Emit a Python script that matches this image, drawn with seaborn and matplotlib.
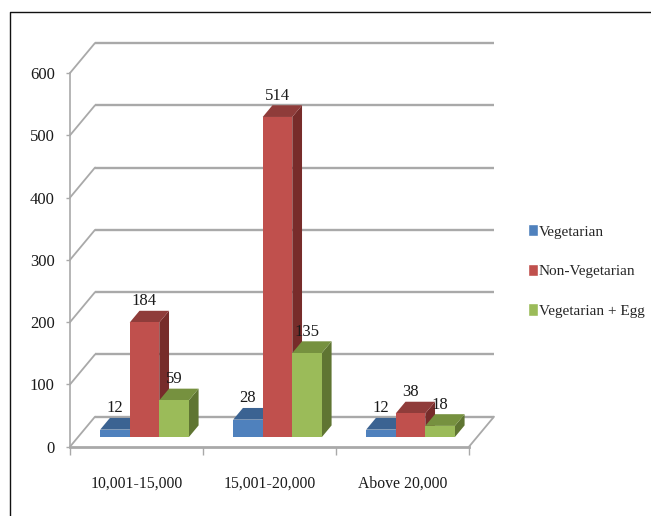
import matplotlib
matplotlib.use("Agg")
import matplotlib.pyplot as plt
from matplotlib.lines import Line2D
from matplotlib.patches import Polygon
from matplotlib.transforms import Affine2D
import numpy as np
import pandas as pd
import seaborn as sns

# Monthly income bands and respondent counts per diet type
income_bands = ["10,001-15,000", "15,001-20,000", "Above 20,000"]
vegetarian = [12, 28, 12]
non_vegetarian = [184, 514, 38]
vegetarian_egg = [59, 135, 18]
diet_names = ["Vegetarian", "Non-Vegetarian", "Vegetarian + Egg"]
y_ticks = [0, 100, 200, 300, 400, 500, 600]

front_colors = ["#4f81bd", "#c0504d", "#9bbb59"]
top_colors = ["#3b6392", "#8f3c3a", "#76913f"]
side_colors = ["#2f4f75", "#772c2a", "#5f7532"]

W, H = 651, 516
LABEL_FONT = "Liberation Serif"
GRID = "#a9a9a9"

# Oblique projection, in device pixels: the floor recedes by this much
DEPTH_X, DEPTH_Y = 25.0, 30.0
BAR_NEAR, BAR_FAR = 0.32, 0.71

df = pd.DataFrame({
    "band": income_bands * 3,
    "diet": sum([[d] * 3 for d in diet_names], []),
    "count": vegetarian + non_vegetarian + vegetarian_egg,
})

sns.set_theme(style="white")
plt.rcParams["font.family"] = [LABEL_FONT, "DejaVu Serif"]

fig = plt.figure(figsize=(W / 100, H / 100), dpi=100, facecolor="white")
ax = fig.add_axes([70 / W, (H - 446.7) / H, 399 / W, 373.7 / H])

sns.barplot(data=df, x="band", y="count", hue="diet", order=income_bands,
            hue_order=diet_names, palette=front_colors, width=2 / 3, gap=0,
            saturation=1, errorbar=None, ax=ax, legend=True)
ax.set_xlim(-0.5, 2.5)
ax.set_ylim(0, 600)
ax.set_xlabel("")
ax.set_ylabel("")
ax.patch.set_alpha(0)


def depth(frac):
    """Transform from data space to a plane pushed back by frac of the floor."""
    return ax.transData + Affine2D().translate(DEPTH_X * frac, DEPTH_Y * frac)


# Back wall lines and the slanted side-wall lines
for t in y_ticks:
    ax.plot([-0.5, 2.5], [t, t], transform=depth(1), color=GRID, lw=1.7,
            clip_on=False, zorder=1, solid_capstyle="butt")
    p0 = ax.transData.transform((-0.5, t))
    ax.add_line(Line2D([p0[0], p0[0] + DEPTH_X], [p0[1], p0[1] + DEPTH_Y],
                       transform=None, color=GRID, lw=1.3, clip_on=False, zorder=1))

# Right edge of the floor
p0 = ax.transData.transform((2.5, 0))
ax.add_line(Line2D([p0[0], p0[0] + DEPTH_X], [p0[1], p0[1] + DEPTH_Y],
                   transform=None, color=GRID, lw=1.3, clip_on=False, zorder=1))

# Extrude each bar front into a box, left to right so nearer faces overlap
bars = [b for b in ax.patches if b.get_height() > 0]
near = depth(BAR_NEAR)
ext_x = DEPTH_X * (BAR_FAR - BAR_NEAR)
ext_y = DEPTH_Y * (BAR_FAR - BAR_NEAR)
rows = np.repeat(np.arange(3), 3)

ordered = sorted(zip(bars, rows), key=lambda item: item[0].get_x())
for i, (bar, row) in enumerate(ordered):
    x0, x1 = bar.get_x(), bar.get_x() + bar.get_width()
    v = bar.get_height()
    z = 3 + i * 0.1
    bar.set_transform(near)
    bar.set_clip_on(False)
    bar.set_edgecolor("none")
    bar.set_zorder(z + 0.02)
    (ax_, ay0), (bx, by) = near.transform([(x0, v), (x1, v)])
    _, ybase = near.transform((x1, 0))
    top = Polygon([(ax_, ay0), (bx, by), (bx + ext_x, by + ext_y), (ax_ + ext_x, ay0 + ext_y)],
                  closed=True, transform=None, facecolor=top_colors[row], edgecolor="none",
                  clip_on=False, zorder=z + 0.01)
    side = Polygon([(bx, by), (bx + ext_x, by + ext_y), (bx + ext_x, ybase + ext_y), (bx, ybase)],
                   closed=True, transform=None, facecolor=side_colors[row], edgecolor="none",
                   clip_on=False, zorder=z)
    ax.add_patch(side)
    ax.add_patch(top)
    ax.annotate(f"{v:.0f}", xy=((x0 + x1) / 2, v), xycoords=near,
                xytext=(0, ext_y + 9.5), textcoords="offset pixels",
                ha="center", va="center", fontsize=12, color="#1a1a1a",
                family=LABEL_FONT, zorder=10, annotation_clip=False)

# Front axes
for name in ("top", "right"):
    ax.spines[name].set_visible(False)
ax.spines["left"].set_color(GRID)
ax.spines["left"].set_linewidth(1.2)
ax.spines["bottom"].set_color(GRID)
ax.spines["bottom"].set_linewidth(2)
ax.set_yticks(y_ticks)
ax.set_xticks([0, 1, 2], income_bands)
ax.set_xticks([-0.5, 0.5, 1.5, 2.5], minor=True)
ax.tick_params(axis="y", length=3, width=1, color=GRID, pad=8, left=True,
               labelsize=12, labelcolor="#1a1a1a")
ax.tick_params(axis="x", which="major", length=0, pad=21, labelsize=11.3, labelcolor="#1a1a1a")
ax.tick_params(axis="x", which="minor", length=6, width=1, color=GRID, bottom=True)

# Legend to the right of the plot
handles, labels = ax.get_legend_handles_labels()
ax.legend(handles, labels, loc="center left", frameon=False,
          bbox_to_anchor=(527.5 / W, (H - 271) / H), bbox_transform=fig.transFigure,
          fontsize=11, handlelength=0.67, handleheight=0.88, handletextpad=0.08,
          labelspacing=1.65, borderpad=0, borderaxespad=0)

# Thin black frame around the chart area
frame_x = [10 / W, 10 / W, 1]
frame_y = [0, (H - 12) / H, (H - 12) / H]
fig.add_artist(Line2D(frame_x, frame_y, transform=fig.transFigure, color="#111111", lw=1))

fig.savefig("out.png", dpi=100)
